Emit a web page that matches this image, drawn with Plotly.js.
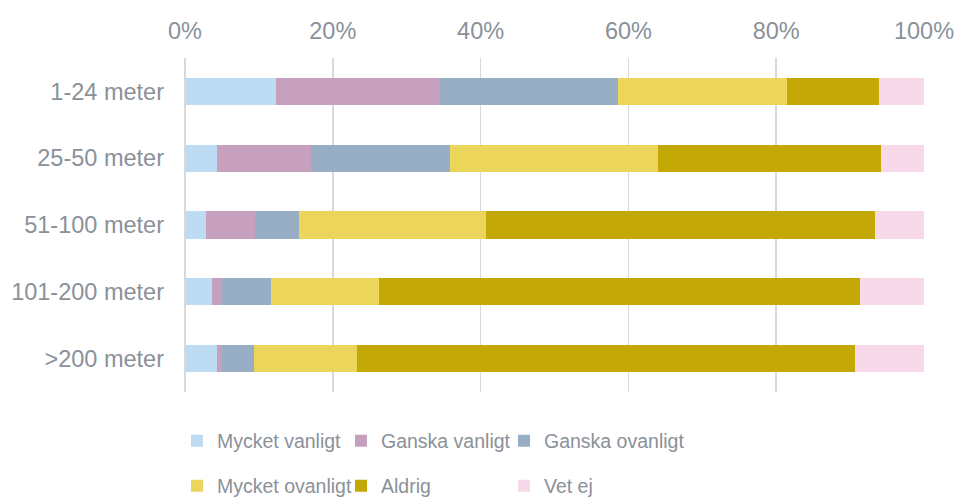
<!DOCTYPE html>
<html>
<head>
<meta charset="utf-8">
<script src="https://cdn.plot.ly/plotly-3.0.1.min.js"></script>
<style>html,body{margin:0;padding:0;background:#fff;}#chart{width:956px;height:497px;}</style>
</head>
<body>
<div id="chart"></div>
<script>
var categories = ["1-24 meter", "25-50 meter", "51-100 meter", "101-200 meter", ">200 meter"];
var seriesNames = ["Mycket vanligt", "Ganska vanligt", "Ganska ovanligt", "Mycket ovanligt", "Aldrig", "Vet ej"];
var mycketVanligt  = [0.123, 0.043, 0.029, 0.036, 0.043];
var ganskaVanligt  = [0.222, 0.128, 0.066, 0.014, 0.007];
var ganskaOvanligt = [0.241, 0.188, 0.059, 0.066, 0.044];
var mycketOvanligt = [0.228, 0.281, 0.253, 0.146, 0.139];
var aldrig         = [0.125, 0.302, 0.527, 0.651, 0.673];
var vetEj          = [0.061, 0.058, 0.066, 0.087, 0.094];
var tickVals = [0, 0.2, 0.4, 0.6, 0.8, 1.0];
var tickText = ["0%", "20%", "40%", "60%", "80%", "100%"];

var seriesValues = [mycketVanligt, ganskaVanligt, ganskaOvanligt, mycketOvanligt, aldrig, vetEj];
var colors = ["#bddcf4", "#c6a0bd", "#97aec5", "#ebd55a", "#c4a806", "#f8d9e9"];
var legendIds = ["legend", "legend2", "legend3", "legend4", "legend5", "legend6"];

// legend grid: 3 columns x 2 rows (pixel left edges of entries, row centers)
var W = 956, H = 497;
var M = {l: 185, r: 32, t: 58, b: 105};
var plotW = W - M.l - M.r, plotH = H - M.t - M.b;
var colLeftPx = [177, 341, 504];
var rowCenterPx = [441, 486];

var textColor = "#8a9199";
var fontFam = "Liberation Sans, Arial, sans-serif";

var traces = seriesNames.map(function(name, i) {
  return {
    type: "bar",
    orientation: "h",
    name: name,
    y: categories,
    x: seriesValues[i],
    marker: {color: colors[i], line: {width: 0}},
    legend: legendIds[i],
    hoverinfo: "x+name"
  };
});

var layout = {
  width: W, height: H,
  margin: {l: M.l, r: M.r, t: M.t, b: M.b, autoexpand: false},
  paper_bgcolor: "#ffffff",
  plot_bgcolor: "#ffffff",
  barmode: "stack",
  bargap: 0.59,
  font: {family: fontFam, size: 23.5, color: textColor},
  xaxis: {
    side: "top",
    range: [0, 1],
    tickvals: tickVals,
    ticktext: tickText,
    showgrid: true,
    gridcolor: "#d9d9d9",
    gridwidth: 1.5,
    zeroline: true,
    zerolinecolor: "#d9d9d9",
    zerolinewidth: 1.5,
    showline: false,
    ticks: "",
    ticklabelstandoff: 13,
    tickfont: {size: 23.5, color: textColor},
    fixedrange: true
  },
  yaxis: {
    type: "category",
    autorange: "reversed",
    showgrid: false,
    zeroline: false,
    showline: false,
    ticks: "",
    ticklabelstandoff: 20,
    tickfont: {size: 23.5, color: textColor},
    fixedrange: true
  },
  showlegend: true
};

legendIds.forEach(function(id, i) {
  var col = i % 3, row = Math.floor(i / 3);
  layout[id] = {
    orientation: "h",
    xref: "paper", yref: "paper",
    x: (colLeftPx[col] - M.l) / plotW, xanchor: "left",
    y: (H - M.b - rowCenterPx[row]) / plotH, yanchor: "middle",
    font: {family: fontFam, size: 19.5, color: textColor},
    itemwidth: 30,
    bgcolor: "rgba(0,0,0,0)",
    borderwidth: 0
  };
});

Plotly.newPlot("chart", traces, layout, {displayModeBar: false, staticPlot: true});
</script>
</body>
</html>
